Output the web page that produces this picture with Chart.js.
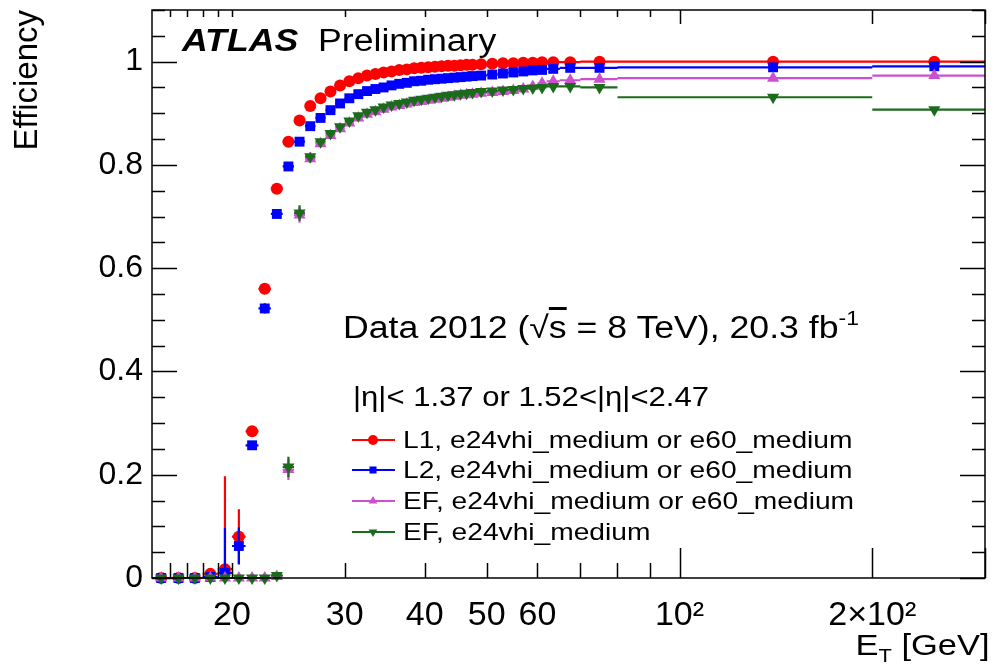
<!DOCTYPE html>
<html>
<head>
<meta charset="utf-8">
<title>Trigger efficiency vs ET</title>
<script src="https://cdn.jsdelivr.net/npm/chart.js@4.4.0/dist/chart.umd.min.js"></script>
<style>
    body { margin: 0; background: #fff; }
    #wrap { position: relative; width: 992px; height: 664px; font-family: "Liberation Sans", Arial, sans-serif; }
    .lbl { position: absolute; white-space: nowrap; line-height: 1; color: #000; transform-origin: 0 50%; transform: scaleX(1.15); }
    .leg { font-size: 24.5px; left: 403px; }
</style>
</head>
<body>
<div id="wrap">
    <canvas id="effChart"></canvas>
    <div class="lbl" style="left:182px; top:25px; font-size:31px;"><b><i>ATLAS</i></b>&nbsp; Preliminary</div>
    <div class="lbl" style="left:343px; top:308px; font-size:31px;">Data 2012 (√<span style="text-decoration:overline">s</span> = 8 TeV), 20.3 fb<sup style="font-size:20px; vertical-align:13px;">-1</sup></div>
    <div class="lbl" style="left:353px; top:384px; font-size:27px;">|η|&lt; 1.37 or 1.52&lt;|η|&lt;2.47</div>
    <div class="lbl leg" style="top:428px;">L1, e24vhi_medium or e60_medium</div>
    <div class="lbl leg" style="top:458px;">L2, e24vhi_medium or e60_medium</div>
    <div class="lbl leg" style="top:489px;">EF, e24vhi_medium or e60_medium</div>
    <div class="lbl leg" style="top:520px;">EF, e24vhi_medium</div>
    <div class="lbl" style="right:2px; top:630px; font-size:30px; transform-origin:100% 50%;">E<sub style="font-size:19px;">T</sub> [GeV]</div>
</div>
<script>
// E_T bins [GeV]
const binEdges = [15, 16, 17, 18, 19, 20, 21, 22, 23, 24, 25, 26, 27, 28, 29, 30, 31, 32, 33, 34, 35, 36, 37, 38, 39, 40,
    41, 42, 43, 44, 45, 46, 47, 48, 50, 52, 54, 56, 58, 60, 62, 65, 70, 80, 200, 300];
const etCenters = [15.5, 16.5, 17.5, 18.5, 19.5, 20.5, 21.5, 22.5, 23.5, 24.5, 25.5, 26.5, 27.5, 28.5, 29.5, 30.5, 31.5,
    32.5, 33.5, 34.5, 35.5, 36.5, 37.5, 38.5, 39.5, 40.5, 41.5, 42.5, 43.5, 44.5, 45.5, 46.5, 47.5,
    49, 51, 53, 55, 57, 59, 61, 63.5, 67.5, 75, 140, 250];

const effL1 = [0, 0, 0, 0.008, 0.017, 0.08, 0.284, 0.56, 0.754, 0.845, 0.886, 0.914, 0.929, 0.942, 0.954, 0.962, 0.968,
    0.973, 0.976, 0.979, 0.981, 0.984, 0.985, 0.987, 0.988, 0.989, 0.99, 0.991, 0.992, 0.992, 0.993, 0.994, 0.994,
    0.995, 0.996, 0.997, 0.997, 0.998, 0.998, 0.999, 0.999, 0.999, 1.0, 1.0, 1.0];
const effL2 = [0, 0, 0, 0.002, 0.01, 0.062, 0.257, 0.522, 0.705, 0.797, 0.845, 0.875, 0.891, 0.906, 0.919, 0.929, 0.937,
    0.943, 0.947, 0.95, 0.954, 0.957, 0.959, 0.962, 0.963, 0.965, 0.966, 0.967, 0.968, 0.969, 0.97, 0.971, 0.972,
    0.973, 0.975, 0.977, 0.979, 0.981, 0.983, 0.984, 0.986, 0.988, 0.988, 0.989, 0.991];
const effEFor = [0, 0, 0, 0, 0, 0, 0, 0, 0.003, 0.21, 0.703, 0.812, 0.841, 0.857, 0.87, 0.881, 0.891,
    0.898, 0.903, 0.908, 0.912, 0.915, 0.918, 0.921, 0.923, 0.925, 0.927, 0.929, 0.931, 0.933, 0.935, 0.936, 0.937,
    0.939, 0.94, 0.942, 0.944, 0.947, 0.952, 0.958, 0.962, 0.964, 0.966, 0.968, 0.973];
const effEF = [0, 0, 0, 0, 0, 0, 0, 0, 0.005, 0.215, 0.707, 0.816, 0.845, 0.861, 0.874, 0.885, 0.895,
    0.902, 0.907, 0.912, 0.916, 0.919, 0.922, 0.925, 0.927, 0.929, 0.931, 0.933, 0.935, 0.936, 0.938, 0.939, 0.94,
    0.942, 0.943, 0.945, 0.946, 0.948, 0.949, 0.95, 0.952, 0.952, 0.95, 0.931, 0.907];

// symmetric statistical errors (clipped to [0,1] when drawn)
const errL1 = [0.002, 0.002, 0.002, 0.008, 0.18, 0.053, 0.008, 0.008, 0.007, 0.005, 0.004, 0.003, 0.002, 0.002, 0.002,
    0.002, 0.002, 0.002, 0.002, 0.002, 0.002, 0.002, 0.002, 0.002, 0.002, 0.002, 0.002, 0.002, 0.002, 0.002, 0.002,
    0.002, 0.002, 0.002, 0.002, 0.002, 0.002, 0.002, 0.002, 0.002, 0.002, 0.002, 0.002, 0.002, 0.002];
const errL2 = [0.002, 0.002, 0.002, 0.004, 0.087, 0.036, 0.008, 0.01, 0.008, 0.006, 0.005, 0.004, 0.002, 0.002, 0.002,
    0.002, 0.002, 0.002, 0.002, 0.002, 0.002, 0.002, 0.002, 0.002, 0.002, 0.002, 0.002, 0.002, 0.002, 0.002, 0.002,
    0.002, 0.002, 0.002, 0.002, 0.002, 0.002, 0.002, 0.002, 0.002, 0.002, 0.002, 0.002, 0.002, 0.002];
const errEF = [0, 0, 0, 0, 0, 0, 0, 0, 0.004, 0.02, 0.015, 0.008, 0.006, 0.005, 0.004, 0.003, 0.002,
    0.002, 0.002, 0.002, 0.002, 0.002, 0.002, 0.002, 0.002, 0.002, 0.002, 0.002, 0.002, 0.002, 0.002, 0.002, 0.002,
    0.002, 0.002, 0.002, 0.002, 0.002, 0.002, 0.002, 0.002, 0.002, 0.002, 0.003, 0.004];

const xTickValues = [20, 30, 40, 50, 60, 100, 200];
const xTickLabels = ["20", "30", "40", "50", "60", "10²", "2×10²"];
const yTickValues = [0, 0.2, 0.4, 0.6, 0.8, 1];
const yTickLabels = ["0", "0.2", "0.4", "0.6", "0.8", "1"];
const xMinorTicks = [16, 17, 18, 19, 20, 30, 40, 50, 60, 70, 80, 90, 100, 200, 300];

const seriesLabels = [
    "L1, e24vhi_medium or e60_medium",
    "L2, e24vhi_medium or e60_medium",
    "EF, e24vhi_medium or e60_medium",
    "EF, e24vhi_medium",
];

function points(vals) {
    return etCenters.map((e, i) => ({ x: e, y: vals[i] }));
}

// bin-width and statistical error bars, drawn just before each dataset's markers
const errorBars = {
    id: "errorBars",
    beforeDatasetDraw(chart, args) {
        const ds = chart.data.datasets[args.index];
        const { ctx, scales: { x, y } } = chart;
        ctx.save();
        ctx.strokeStyle = ds.borderColor;
        ctx.lineWidth = 2.2;
        ctx.beginPath();
        ds.data.forEach((p, i) => {
            const yp = y.getPixelForValue(p.y);
            ctx.moveTo(x.getPixelForValue(binEdges[i]), yp);
            ctx.lineTo(x.getPixelForValue(binEdges[i + 1]), yp);
            const e = ds.errors[i];
            if (e > 0) {
                const xp = x.getPixelForValue(p.x);
                ctx.moveTo(xp, y.getPixelForValue(Math.max(0, p.y - e)));
                ctx.lineTo(xp, y.getPixelForValue(Math.min(1, p.y + e)));
            }
        });
        ctx.stroke();
        ctx.restore();
    },
};

// ROOT style frame with inward ticks on all four sides, plus legend symbols
const rootFrame = {
    id: "rootFrame",
    afterDatasetsDraw(chart) {
        const { ctx, chartArea: a, scales: { x, y } } = chart;
        ctx.save();
        ctx.strokeStyle = "#000";
        ctx.lineWidth = 1.5;
        ctx.strokeRect(a.left, a.top, a.right - a.left, a.bottom - a.top);
        ctx.beginPath();
        for (let k = 0; k <= 22; k++) {
            const v = k * 0.05;
            const yp = Math.round(y.getPixelForValue(v)) + 0.5;
            const len = k % 4 === 0 ? 25 : 13;
            ctx.moveTo(a.left, yp);
            ctx.lineTo(a.left + len, yp);
            ctx.moveTo(a.right, yp);
            ctx.lineTo(a.right - len, yp);
        }
        xMinorTicks.forEach((v) => {
            const xp = Math.round(x.getPixelForValue(v)) + 0.5;
            const major = v === 100 || v === 200 || v === 300;
            ctx.moveTo(xp, a.bottom);
            ctx.lineTo(xp, a.bottom - (major ? 30 : 15));
            ctx.moveTo(xp, a.top);
            ctx.lineTo(xp, a.top + (major ? 14 : 7));
        });
        ctx.stroke();

        // legend symbols
        const rows = [440, 470, 501, 532];
        chart.data.datasets.forEach((ds, i) => {
            ctx.strokeStyle = ds.borderColor;
            ctx.fillStyle = ds.backgroundColor;
            ctx.lineWidth = 2;
            ctx.beginPath();
            ctx.moveTo(352, rows[i]);
            ctx.lineTo(395, rows[i]);
            ctx.stroke();
            Chart.helpers.drawPoint(ctx, {
                pointStyle: ds.pointStyle,
                radius: 5,
                rotation: ds.rotation || 0,
                borderWidth: 0,
            }, 373, rows[i]);
        });
        ctx.restore();
    },
};

document.addEventListener("DOMContentLoaded", function () {
    const ctx = document.getElementById("effChart").getContext("2d");

    new Chart(ctx, {
        type: "scatter",
        data: {
            datasets: [
                {
                    label: seriesLabels[0],
                    data: points(effL1),
                    errors: errL1,
                    pointStyle: "circle",
                    pointRadius: 6,
                    backgroundColor: "#ff0000",
                    borderColor: "#ff0000",
                    order: 3,
                },
                {
                    label: seriesLabels[1],
                    data: points(effL2),
                    errors: errL2,
                    pointStyle: "rect",
                    pointRadius: 7,
                    backgroundColor: "#0000ff",
                    borderColor: "#0000ff",
                    order: 2,
                },
                {
                    label: seriesLabels[2],
                    data: points(effEFor),
                    errors: errEF,
                    pointStyle: "triangle",
                    pointRadius: 7,
                    backgroundColor: "#cc4fd0",
                    borderColor: "#cc4fd0",
                    order: 1,
                },
                {
                    label: seriesLabels[3],
                    data: points(effEF),
                    errors: errEF,
                    pointStyle: "triangle",
                    rotation: 180,
                    pointRadius: 7,
                    backgroundColor: "#1c6b1c",
                    borderColor: "#1c6b1c",
                    order: 0,
                },
            ],
        },
        options: {
            responsive: true,
            maintainAspectRatio: false,
            animation: false,
            clip: false,
            layout: { padding: { top: 10, right: 2, left: 0, bottom: 0 } },
            elements: { point: { borderWidth: 0, hoverRadius: 7 } },
            plugins: { legend: { display: false }, tooltip: { enabled: false } },
            scales: {
                x: {
                    type: "logarithmic",
                    min: 15,
                    max: 300,
                    grid: { display: false, drawTicks: false },
                    border: { display: false },
                    afterBuildTicks: (s) => {
                        s.ticks = xTickValues.map((v) => ({ value: v, major: false }));
                    },
                    ticks: {
                        autoSkip: false,
                        maxRotation: 0,
                        padding: 17,
                        color: "#000",
                        font: { family: "Liberation Sans", size: 34 },
                        callback: (v, i) => xTickLabels[i],
                    },
                    afterFit: (s) => {
                        s.height = 86;
                        s.paddingLeft = 0;
                        s.paddingRight = 0;
                    },
                },
                y: {
                    min: 0,
                    max: 1.1,
                    grid: { display: false, drawTicks: false },
                    border: { display: false },
                    afterBuildTicks: (s) => {
                        s.ticks = yTickValues.map((v) => ({ value: v }));
                    },
                    ticks: {
                        padding: 9,
                        color: "#000",
                        font: { family: "Liberation Sans", size: 32 },
                        callback: (v, i) => yTickLabels[i],
                    },
                    title: {
                        display: true,
                        text: "Efficiency",
                        align: "end",
                        color: "#000",
                        font: { family: "Liberation Sans", size: 33 },
                        padding: { top: 8, bottom: 0 },
                    },
                    afterFit: (s) => {
                        s.width = 152;
                        s.paddingTop = 0;
                        s.paddingBottom = 0;
                    },
                },
            },
        },
        plugins: [errorBars, rootFrame],
    });
});
</script>
</body>
</html>
